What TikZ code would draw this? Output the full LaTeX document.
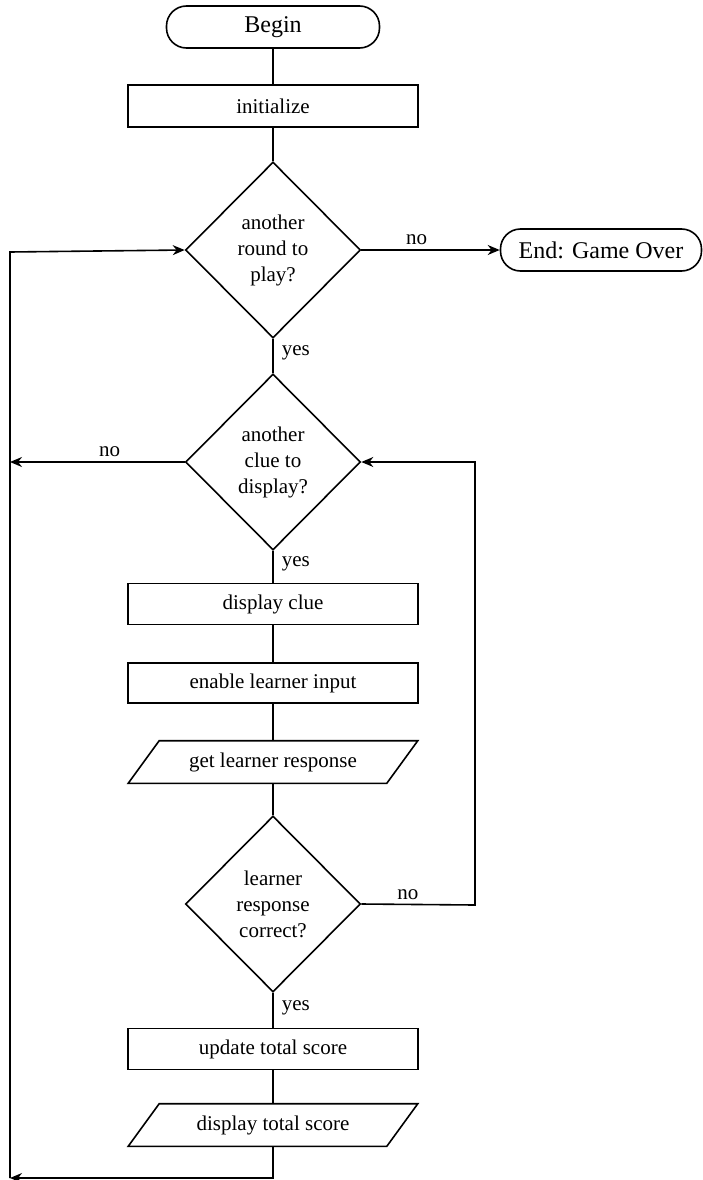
\documentclass[tikz,border=0pt]{standalone}
\usepackage{fontspec}
\setmainfont{Liberation Serif}
\usetikzlibrary{shapes.geometric,arrows.meta}
\begin{document}
\begin{tikzpicture}[x=1pt,y=-1pt,
  line width=1.6pt,
  base/.style={draw, line width=1.6pt, font=\fontsize{21}{26}\selectfont, inner sep=2pt},
  term/.style={base, rectangle, rounded corners=20pt, minimum height=42pt, font=\fontsize{24}{28}\selectfont},
  proc/.style={base, rectangle, minimum width=290pt, minimum height=41pt},
  dec/.style={base, diamond, minimum width=175pt, minimum height=176pt, align=center, inner sep=0pt},
  io/.style={rectangle, font=\fontsize{21}{26}\selectfont, inner sep=2pt, minimum width=257pt, minimum height=41pt},
  ioshape/.style={draw, line width=1.6pt, line join=miter},
  lbl/.style={font=\fontsize{21}{26}\selectfont, inner sep=2pt},
  arr/.style={-{Stealth[length=12pt,width=10pt]}}
]
\useasboundingbox (0,0) rectangle (703,1180);

\node[term, minimum width=213pt] (begin) at (273,27) {Begin};
\node[proc, minimum height=42pt] (init) at (273,106) {initialize};
\node[dec] (d1) at (273,250) {another\\round to\\play?};
\node[term, minimum width=201pt] (endn) at (601,250) {End: Game Over};
\node[dec] (d2) at (273,462) {another\\clue to\\display?};
\node[proc] (clue) at (273,604) {display clue};
\node[proc, minimum height=40pt] (enable) at (273,683) {enable learner input};
\node[io] (getr) at (273,762) {get learner response};
\node[dec] (d3) at (273,904) {learner\\response\\correct?};
\node[proc] (update) at (273,1049) {update total score};
\node[io] (disp) at (273,1125) {display total score};

\foreach \n in {getr,disp}{
  \draw[ioshape] ([xshift=-15.5pt]\n.south west) -- ([xshift=15.5pt]\n.north west)
      -- ([xshift=15.5pt]\n.north east) -- ([xshift=-15.5pt]\n.south east) -- cycle;
}

\coordinate (noL) at (10,462);
\coordinate (rTop) at (475,462);
\coordinate (rBot) at (475,905);
\coordinate (loopB) at (10,1178);
\coordinate (loopT) at (10,252);

\draw (begin) -- (init);
\draw (init) -- (d1);
\draw[arr] (d1.east) -- node[lbl, above=2pt, pos=0.4] {no} (endn.west);
\draw (d1.south) -- node[lbl, right=6pt, pos=0.42] {yes} (d2.north);
\draw[arr] (d2.west) -- node[lbl, above=2pt, pos=0.43] {no} (noL);
\draw (d2.south) -- node[lbl, right=6pt, pos=0.4] {yes} (clue.north);
\draw (clue) -- (enable);
\draw (enable) -- (getr);
\draw (getr) -- (d3);
\draw[arr] (d3.east) -- node[lbl, above=2pt, pos=0.41] {no} (rBot) -- (rTop) -- (d2.east);
\draw (d3.south) -- node[lbl, right=6pt, pos=0.43] {yes} (update.north);
\draw (update) -- (disp);
\draw[arr] (disp.south) -- (disp.south |- loopB) -- (loopB);
\draw[arr] (loopB) -- (loopT) -- (d1.west);
\end{tikzpicture}
\end{document}
